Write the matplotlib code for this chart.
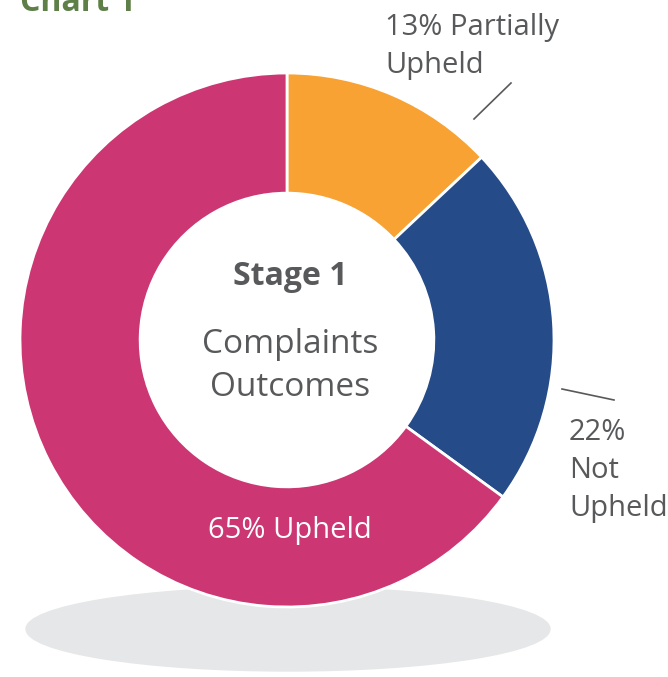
import matplotlib
matplotlib.use("Agg")
import matplotlib.pyplot as plt
from matplotlib.patches import Ellipse

categories = ["Partially Upheld", "Not Upheld", "Upheld"]
values = [13, 22, 65]
colors = ["#F7A233", "#254B88", "#CC3673"]

plt.rcParams['font.family'] = ['Open Sans', 'DejaVu Sans']
TXT = "#58595B"

W, H = 668, 677
fig = plt.figure(figsize=(W/100, H/100), dpi=100)
ax = fig.add_axes([0, 0, 1, 1])
ax.set_xlim(0, W)
ax.set_ylim(0, H)
ax.set_aspect('equal')
ax.axis('off')

def Y(py):
    return H - py

cx, cy, R = 287, Y(340), 267

# shadow
ax.add_patch(Ellipse((288, Y(629)), 524, 84, color="#E6E7E8", zorder=0))

ax.pie(values, colors=colors, startangle=90, counterclock=False,
       center=(cx, cy), radius=R,
       wedgeprops=dict(width=R*0.45, edgecolor='white', linewidth=2))
ax.set_xlim(0, W)
ax.set_ylim(0, H)

# title (cut off at top)
ax.text(20, Y(11), "Chart 1", color="#5E8048", fontsize=23, fontweight='bold',
        ha='left', va='baseline')

# center text
ax.text(cx+3, Y(285), "Stage 1", color=TXT, fontsize=23, fontweight='bold',
        ha='center', va='baseline')
ax.text(cx+3, Y(353), "Complaints", color=TXT, fontsize=24,
        ha='center', va='baseline')
ax.text(cx+3, Y(396), "Outcomes", color=TXT, fontsize=24,
        ha='center', va='baseline')

LS = 21
# orange label
ax.text(385, Y(35), f"{values[0]}% Partially", color=TXT, fontsize=LS,
        ha='left', va='baseline')
ax.text(385, Y(73), categories[0].split()[1], color=TXT, fontsize=LS,
        ha='left', va='baseline')
ax.plot([474, 511], [Y(119), Y(83)], color=TXT, lw=1.2)

# blue label
for txt, base in zip([f"{values[1]}%", "Not", "Upheld"], [440, 478, 516]):
    ax.text(569, Y(base), txt, color=TXT, fontsize=LS, ha='left', va='baseline')
ax.plot([562, 614], [Y(389), Y(400)], color=TXT, lw=1.2)

# magenta label
ax.text(290, Y(538), f"{values[2]}% {categories[2]}", color="white", fontsize=LS,
        ha='center', va='baseline')

fig.savefig("out.png", dpi=100)
